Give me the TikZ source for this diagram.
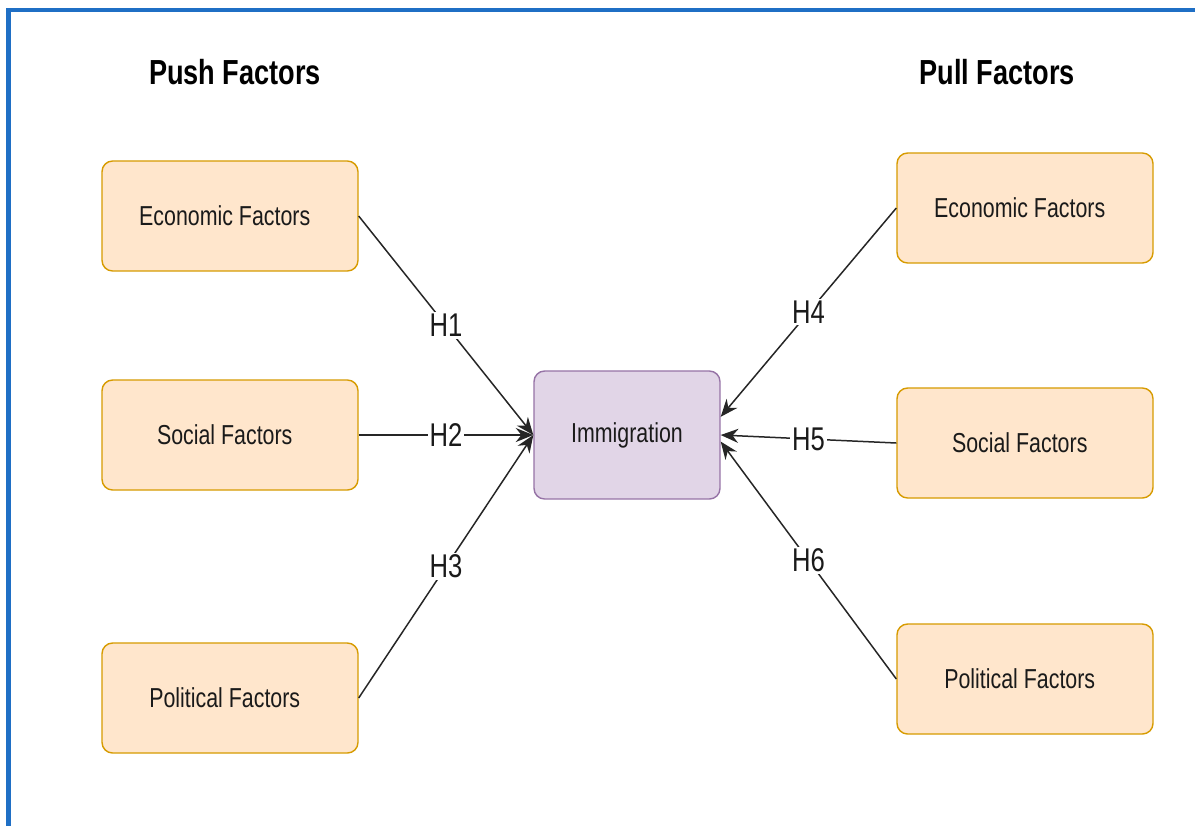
\documentclass[tikz,border=0pt]{standalone}
\usepackage{fontspec}
\newfontfamily\nar[FakeStretch=0.78]{Liberation Sans}
\usetikzlibrary{arrows.meta}
\definecolor{frameblue}{HTML}{1F6FC5}
\definecolor{ofill}{HTML}{FFE6CC}
\definecolor{odraw}{HTML}{D79B00}
\definecolor{pfill}{HTML}{E1D5E7}
\definecolor{pdraw}{HTML}{9673A6}
\definecolor{txt}{HTML}{1A1A1A}
\tikzset{
  factor/.style={draw=odraw, fill=ofill, line width=0.8pt, rounded corners=6pt,
    minimum width=5.12cm, minimum height=2.2cm, inner sep=0pt,
    font=\nar\fontsize{15.6}{18}\selectfont, text=txt},
  target/.style={draw=pdraw, fill=pfill, line width=0.8pt, rounded corners=6pt,
    minimum width=3.72cm, minimum height=2.56cm, inner sep=0pt,
    font=\nar\fontsize{15.6}{18}\selectfont, text=txt},
  title/.style={font=\nar\bfseries\fontsize{19.8}{22}\selectfont, text=black},
  hyp/.style={fill=white, inner sep=1pt, font=\nar\fontsize{18.7}{20}\selectfont, text=txt},
  link/.style={line width=0.85pt, draw=black!85, -{Stealth[length=10pt,width=8pt]}}
}
\begin{document}
\begin{tikzpicture}[x=0.02cm,y=-0.02cm]
\useasboundingbox (0,0) rectangle (1195,825);
\fill[white] (0,0) rectangle (1195,825);
\draw[frameblue, line width=2.3pt] (8.5,860) -- (8.5,10) -- (1230,10);

\node[title] (push) at (235,72) {Push Factors};
\node[title] (pull) at (997,72) {Pull Factors};

\node[factor] (le) at (230,216) {\raisebox{-2pt}{Economic Factors}\hspace*{6pt}};
\node[factor] (ls) at (230,435) {\raisebox{-2pt}{Social Factors}\hspace*{6pt}};
\node[factor] (lp) at (230,698) {\raisebox{-2pt}{Political Factors}\hspace*{6pt}};
\node[factor] (re) at (1025,208) {\raisebox{-2pt}{Economic Factors}\hspace*{6pt}};
\node[factor] (rs) at (1025,443) {\raisebox{-2pt}{Social Factors}\hspace*{6pt}};
\node[factor] (rp) at (1025,679) {\raisebox{-2pt}{Political Factors}\hspace*{6pt}};
\node[target] (imm) at (627,435) {\raisebox{-2pt}{Immigration}};

\draw[link] (le.east) -- node[hyp] {H1} (imm.west);
\draw[link] (ls.east) -- node[hyp] {H2} (imm.west);
\draw[link] (lp.east) -- node[hyp] {H3} (imm.west);
\draw[link] (re.west) -- node[hyp] {H4} (imm.11);
\draw[link] (rs.west) -- node[hyp] {H5} (imm.0);
\draw[link] (rp.west) -- node[hyp] {H6} (imm.-4);
\end{tikzpicture}
\end{document}
